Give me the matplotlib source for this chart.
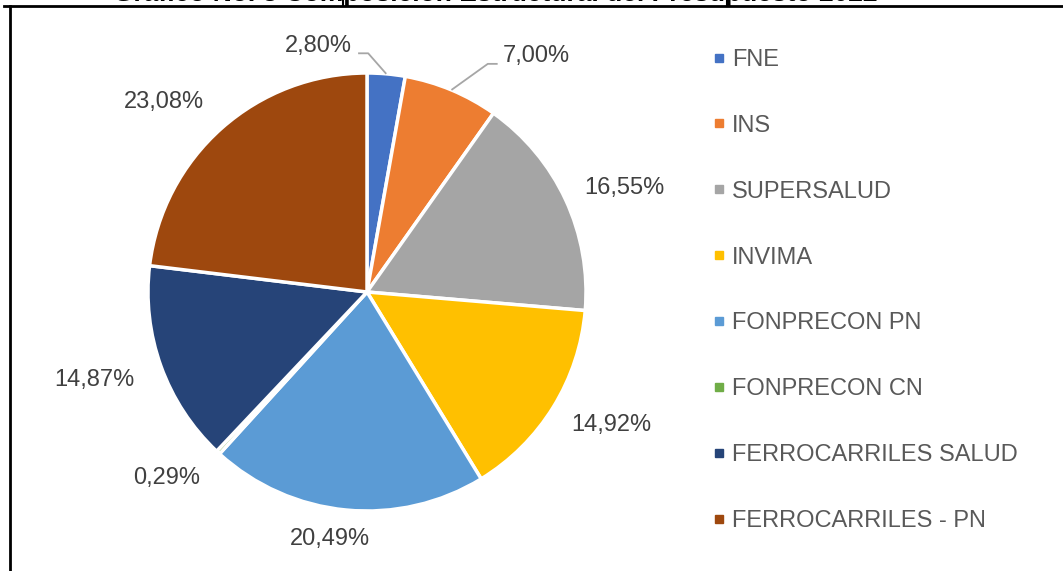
import numpy as np
import matplotlib.pyplot as plt
from matplotlib.lines import Line2D

plt.rcParams['font.family'] = ['Liberation Sans', 'DejaVu Sans']

entidades = ["FNE", "INS", "SUPERSALUD", "INVIMA", "FONPRECON PN",
             "FONPRECON CN", "FERROCARRILES SALUD", "FERROCARRILES - PN"]
porcentajes = [2.80, 7.00, 16.55, 14.92, 20.49, 0.29, 14.87, 23.08]
colores = ["#4472C4", "#ED7D31", "#A5A5A5", "#FFC000", "#5B9BD5",
           "#70AD47", "#264478", "#9E480E"]
titulo = "Gráfico No. 3 Composición Estructural del Presupuesto 2022"

# label placement: distance (in radii) and angular nudge (deg) from wedge middle
dist_etq = [1.145, 1.328, 1.27, 1.27, 1.14, 1.25, 1.31, 1.27]
giro_etq = [16.3, -13.0, -2.9, 3.2, -3.0, -4.2, -1.9, 5.5]

W, H = 1063, 571
fig = plt.figure(figsize=(W / 100, H / 100), dpi=100)

# pie axes: centre (367, 292) px, radius ~219 px
cx, cy, r = 367, 292, 219
half = 1.4 * r
ax = fig.add_axes([(cx - half) / W, (H - cy - half) / H, 2 * half / W, 2 * half / H])

wedges, _ = ax.pie(porcentajes, colors=colores, startangle=90, counterclock=False,
                   wedgeprops=dict(edgecolor="white", linewidth=2.5), radius=1.0)
ax.set_xlim(-1.4, 1.4)
ax.set_ylim(-1.4, 1.4)
ax.axis("off")

txt_color = "#404040"
for i, (w, v) in enumerate(zip(wedges, porcentajes)):
    mid = (w.theta1 + w.theta2) / 2
    a = np.deg2rad(mid + giro_etq[i])
    tx, ty = dist_etq[i] * np.cos(a), dist_etq[i] * np.sin(a)
    lab = f"{v:.2f}%".replace(".", ",")
    ax.text(tx, ty, lab, ha="center", va="center", fontsize=17, color=txt_color)
    ex, ey = np.cos(np.deg2rad(mid)), np.sin(np.deg2rad(mid))
    if i == 0:
        ly = ty - 0.033
        ax.plot([tx + 0.183, tx + 0.229, ex], [ly, ly, ey], color="#A6A6A6", lw=1.3,
                solid_capstyle="butt")
    elif i == 1:
        ly = ty - 0.037
        ax.plot([tx - 0.178, tx - 0.223, ex], [ly, ly, ey], color="#A6A6A6", lw=1.3,
                solid_capstyle="butt")

handles = [Line2D([], [], marker="s", linestyle="", markersize=6,
                  markerfacecolor=c, markeredgecolor=c) for c in colores]
fig.legend(handles, entidades, loc="upper left", bbox_to_anchor=(700 / W, 1 - 37 / H),
           frameon=False, fontsize=17, labelcolor="#595959", handlelength=0.6,
           handletextpad=0.25, labelspacing=1.86, borderpad=0)

# frame lines and the cut-off title
fig.add_artist(Line2D([4 / W, 1], [1 - 6 / H, 1 - 6 / H], color="black", lw=2))
fig.add_artist(Line2D([10 / W, 10 / W], [0, 1 - 6 / H], color="black", lw=2))
for xp in (343, 727):
    fig.add_artist(Line2D([xp / W, xp / W], [1 - 6 / H, 1], color="black", lw=1.5))
fig.text(495 / W, 1 - 0.5 / H, titulo, ha="center", va="baseline",
         fontsize=19, fontweight="bold", color="black")

fig.savefig("out.png", dpi=100, facecolor="white")
